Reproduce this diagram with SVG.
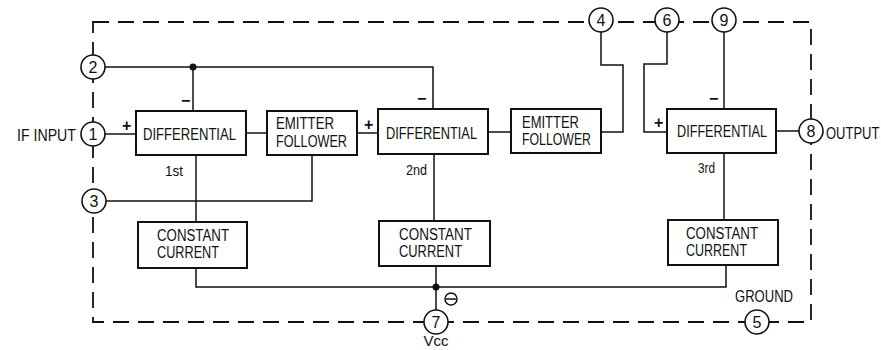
<svg xmlns="http://www.w3.org/2000/svg" width="881" height="350" viewBox="0 0 881 350">
<style>
.bx{fill:#fff;stroke:#111;stroke-width:2}
.w{fill:none;stroke:#111;stroke-width:1.5}
.pin{fill:#fff;stroke:#111;stroke-width:1.6}
.bd{fill:none;stroke:#111;stroke-width:1.8;stroke-dasharray:16 9}
text{font-family:"Liberation Sans",Arial,sans-serif;fill:#111}
.t{font-size:16px}
.n{font-size:16px;text-anchor:middle}
.s{font-size:15px}
.pm{font-size:16px;font-weight:bold}
</style>
<rect width="881" height="350" fill="#fff"/>
<g id="border">
<path class="bd" d="M93,22 H811 V322 H93 Z"/>
</g>
<g id="connectors">
<path class="w" d="M105,67 H433 V109"/>
<path class="w" d="M193,67 V111"/>
<circle cx="193" cy="67" r="3.5" fill="#111"/>
<path class="w" d="M105,134 H136"/>
<path class="w" d="M246,133 H267"/>
<path class="w" d="M357,133 H378"/>
<path class="w" d="M488,132 H511"/>
<path class="w" d="M601,132 H623 V65 H601 V32"/>
<path class="w" d="M667,32 V64 H644 V132 H667"/>
<path class="w" d="M724,32 V109"/>
<path class="w" d="M776,131 H799"/>
<path class="w" d="M196,155 V222"/>
<path class="w" d="M312,155 V201 H106"/>
<path class="w" d="M434,154 V221"/>
<path class="w" d="M724,152 V220"/>
<path class="w" d="M196,268 V287 H726 V265"/>
<path class="w" d="M436,266 V310"/>
<circle cx="436" cy="287" r="3.5" fill="#111"/>
<circle cx="451" cy="299" r="6" class="w"/>
<path class="w" d="M446,299 H456"/>
</g>
<g id="pin2"><circle class="pin" cx="93" cy="67" r="12"/><text class="n" x="93" y="73">2</text></g>
<g id="pin1"><circle class="pin" cx="93" cy="134" r="12"/><text class="n" x="93" y="140">1</text></g>
<g id="pin3"><circle class="pin" cx="94" cy="201" r="12"/><text class="n" x="94" y="207">3</text></g>
<g id="pin4"><circle class="pin" cx="601" cy="20" r="12"/><text class="n" x="601" y="26">4</text></g>
<g id="pin6"><circle class="pin" cx="667" cy="20" r="12"/><text class="n" x="667" y="26">6</text></g>
<g id="pin9"><circle class="pin" cx="724" cy="20" r="12"/><text class="n" x="724" y="26">9</text></g>
<g id="pin8"><circle class="pin" cx="811" cy="131" r="12"/><text class="n" x="811" y="137">8</text></g>
<g id="pin7"><circle class="pin" cx="436" cy="322" r="12"/><text class="n" x="436" y="328">7</text></g>
<g id="pin5"><circle class="pin" cx="757" cy="322" r="12"/><text class="n" x="757" y="328">5</text></g>
<g id="diff1"><rect class="bx" x="136" y="111" width="110" height="44"/><text class="t" x="143" y="140" textLength="93" lengthAdjust="spacingAndGlyphs">DIFFERENTIAL</text><text class="pm" x="122" y="131">+</text><text class="pm" x="181" y="106">−</text><text class="s" x="165" y="176" textLength="18" lengthAdjust="spacingAndGlyphs">1st</text></g>
<g id="ef1"><rect class="bx" x="267" y="111" width="90" height="44"/><text class="t" x="276" y="129" textLength="58" lengthAdjust="spacingAndGlyphs">EMITTER</text><text class="t" x="276" y="147" textLength="71" lengthAdjust="spacingAndGlyphs">FOLLOWER</text></g>
<g id="diff2"><rect class="bx" x="378" y="109" width="110" height="45"/><text class="t" x="386" y="139" textLength="91" lengthAdjust="spacingAndGlyphs">DIFFERENTIAL</text><text class="pm" x="364" y="130">+</text><text class="pm" x="417" y="104">−</text><text class="s" x="406" y="175" textLength="21" lengthAdjust="spacingAndGlyphs">2nd</text></g>
<g id="ef2"><rect class="bx" x="511" y="109" width="90" height="44"/><text class="t" x="522" y="128" textLength="57" lengthAdjust="spacingAndGlyphs">EMITTER</text><text class="t" x="522" y="145" textLength="69" lengthAdjust="spacingAndGlyphs">FOLLOWER</text></g>
<g id="diff3"><rect class="bx" x="667" y="109" width="109" height="44"/><text class="t" x="677" y="137" textLength="90" lengthAdjust="spacingAndGlyphs">DIFFERENTIAL</text><text class="pm" x="654" y="128">+</text><text class="pm" x="709" y="104">−</text><text class="s" x="698" y="173" textLength="17" lengthAdjust="spacingAndGlyphs">3rd</text></g>
<g id="cc1"><rect class="bx" x="138" y="222" width="109" height="46"/><text class="t" x="157" y="241" textLength="72" lengthAdjust="spacingAndGlyphs">CONSTANT</text><text class="t" x="157" y="258" textLength="62" lengthAdjust="spacingAndGlyphs">CURRENT</text></g>
<g id="cc2"><rect class="bx" x="379" y="221" width="111" height="45"/><text class="t" x="399" y="240" textLength="73" lengthAdjust="spacingAndGlyphs">CONSTANT</text><text class="t" x="399" y="257" textLength="63" lengthAdjust="spacingAndGlyphs">CURRENT</text></g>
<g id="cc3"><rect class="bx" x="668" y="220" width="110" height="45"/><text class="t" x="686" y="239" textLength="72" lengthAdjust="spacingAndGlyphs">CONSTANT</text><text class="t" x="686" y="256" textLength="61" lengthAdjust="spacingAndGlyphs">CURRENT</text></g>
<g id="labels">
<text class="t" x="17" y="141" textLength="59" lengthAdjust="spacingAndGlyphs">IF INPUT</text>
<text x="0" y="0" font-size="13" transform="translate(826,139) scale(1,1.2)">OUTPUT</text>
<text class="t" x="735" y="302" textLength="58" lengthAdjust="spacingAndGlyphs">GROUND</text>
<text class="s" x="436" y="346" text-anchor="middle">Vcc</text>
</g>
</svg>
